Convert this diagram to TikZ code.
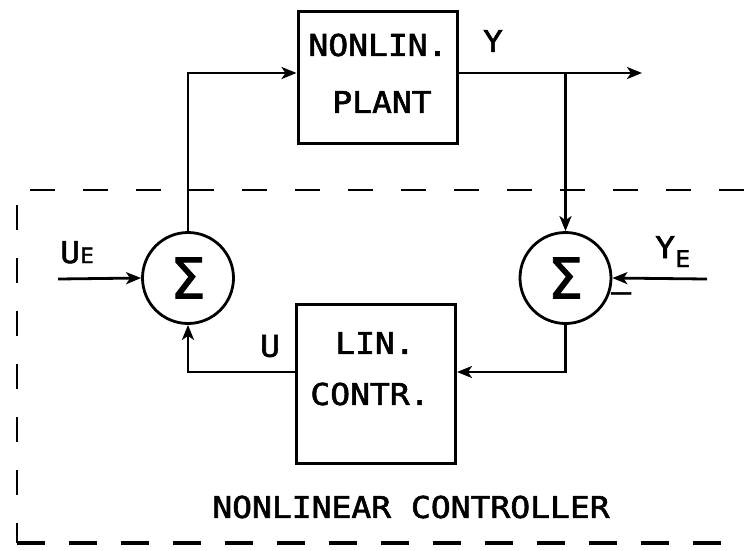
\documentclass[tikz,border=0pt]{standalone}
\usepackage{fontspec}
\usepackage{tikz}
\usetikzlibrary{arrows.meta}
\newfontfamily\plotfont[FakeStretch=1.1,FakeBold=2]{DejaVu Sans Mono}
\newfontfamily\sigmafont[FakeBold=1.5]{DejaVu Sans}

\begin{document}
\begin{tikzpicture}[x=1pt,y=-1pt,
  blk/.style={draw,line width=3pt,minimum width=159pt},
  sumnode/.style={draw,circle,line width=2.8pt,minimum size=91pt,inner sep=0pt,
    font=\sigmafont\fontsize{56}{56}\selectfont},
  txt/.style={inner sep=0pt,font=\plotfont\fontsize{30}{34}\selectfont},
  sig/.style={line width=2.8pt,-{Stealth[length=15pt,width=12pt,inset=4pt]}},
  frame/.style={line width=2.6pt,dash pattern=on 25pt off 28pt}]
\useasboundingbox (0,0) rectangle (744,550);
% blocks
\node[blk,minimum height=132pt] (plant) at (377.5,77) {};
\node[blk,minimum height=159pt] (lin) at (376,383.5) {};
\node[txt] (plantA) at (378,45) {NONLIN.};
\node[txt] (plantB) at (382,102) {PLANT};
\node[txt] (linA) at (375,343) {LIN.};
\node[txt] (linB) at (370,394) {CONTR.};
% summing points
\node[sumnode] (sum1) at (188,278) {Σ};
\node[sumnode] (sum2) at (565.5,278) {Σ};
% signals
\coordinate (ue) at (58,279);
\coordinate (ye) at (707,279);
\coordinate (yout) at (642,73);
\coordinate (tap) at (565.5,73);
\node[txt] (ylab) at (493,41) {Y};
\node[txt] (ulab) at (270,346) {U};
\node[txt,anchor=base west] (uelab) at (60,263) {U{\fontsize{21}{21}\selectfont E}};
\node[txt,anchor=base west] (yelab) at (655,258) {Y\raisebox{-9pt}{\fontsize{23}{23}\selectfont E}};
\node[txt] (minus) at (621,297) {–};
\draw[sig] (sum1.north) |- (plant.west |- tap);
\draw[sig] (plant.east |- tap) -- (yout);
\draw[sig] (tap) -- (sum2.north);
\draw[sig] (sum2.south) |- (lin.east |- 0,372);
\draw[sig] (lin.west |- 0,372) -| (sum1.south);
\draw[sig] (ue) -- (sum1.west);
\draw[sig] (ye) -- (sum2.east);
% controller frame
\draw[frame] (744,190) -- (17,190) -- (17,543);
\draw[line width=4.5pt,dash pattern=on 28pt off 24pt] (17,543) -- (744,543);
\node[txt] (ctrl) at (411,507) {NONLINEAR CONTROLLER};
\end{tikzpicture}
\end{document}
